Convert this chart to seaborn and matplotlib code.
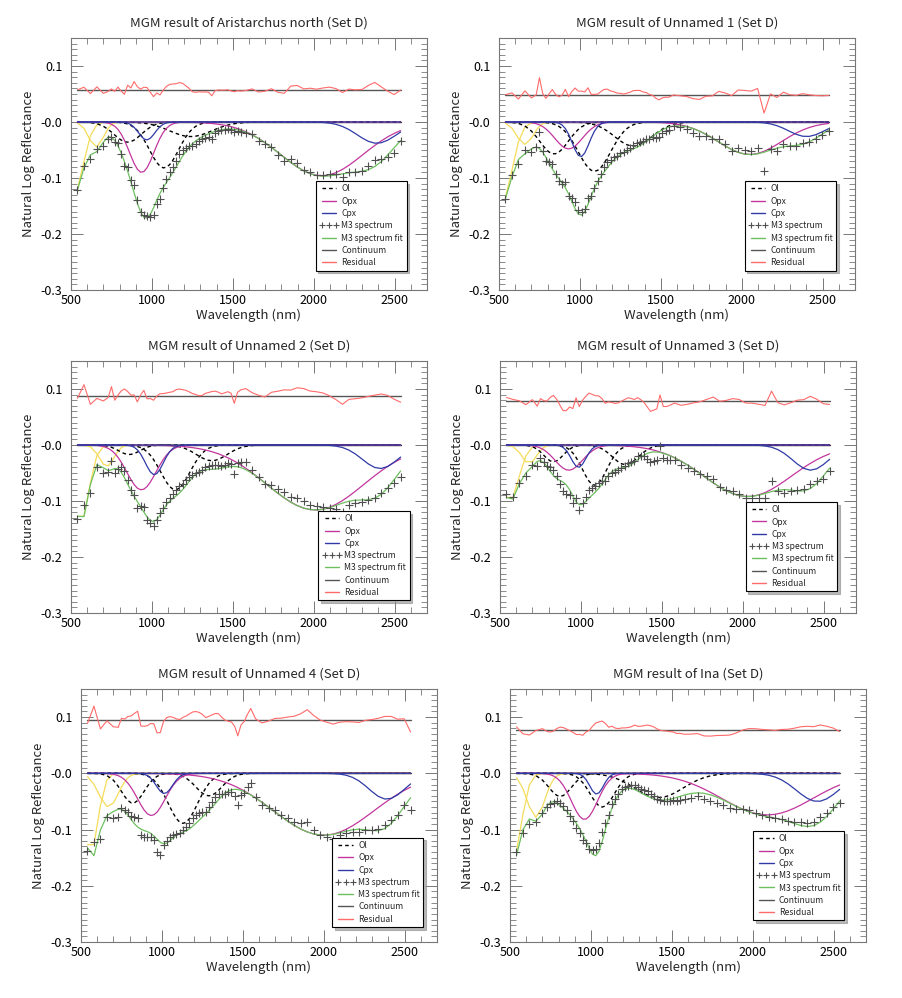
import matplotlib
matplotlib.use("Agg")
import matplotlib.pyplot as plt
from matplotlib.lines import Line2D
from matplotlib.ticker import MultipleLocator, FuncFormatter
import numpy as np
import seaborn as sns

# M3 band centres (nm) used in every panel
WAVELENGTH = [540, 580, 620, 660, 700, 730,
              750, 770, 790, 810, 830, 850, 870, 890, 910, 930,
              950, 970, 990, 1010, 1030, 1050, 1070, 1090, 1110, 1130,
              1150, 1170, 1190, 1210, 1230, 1250, 1270, 1290, 1310, 1330,
              1350, 1370, 1390, 1410, 1430, 1450,
              1469, 1489, 1509, 1529, 1549,
              1579, 1619, 1659, 1699, 1739,
              1778, 1818, 1858, 1898, 1938,
              1978, 2018, 2058, 2098, 2138,
              2178, 2217, 2257, 2297, 2337,
              2377, 2417, 2457, 2497, 2537]

# continuum removed M3 spectra (natural log reflectance)
ARIS_SPEC = [-0.122, -0.078, -0.066, -0.048, -0.043, -0.030,
             -0.026, -0.036, -0.038, -0.058, -0.079, -0.080, -0.104, -0.112, -0.140, -0.160,
             -0.166, -0.168, -0.170, -0.166, -0.146, -0.137, -0.118, -0.102, -0.090, -0.080,
             -0.070, -0.058, -0.050, -0.046, -0.043, -0.043, -0.039, -0.034, -0.031, -0.028,
             -0.026, -0.030, -0.019, -0.016, -0.015, -0.014,
             -0.013, -0.015, -0.017, -0.016, -0.018,
             -0.020, -0.022, -0.034, -0.040, -0.044,
             -0.059, -0.070, -0.066, -0.073, -0.086,
             -0.090, -0.095, -0.094, -0.092, -0.093,
             -0.098, -0.090, -0.090, -0.088, -0.078,
             -0.067, -0.066, -0.062, -0.055, -0.034]
UN1_SPEC = [-0.137, -0.095, -0.075, -0.050, -0.054, -0.045,
            -0.017, -0.052, -0.070, -0.072, -0.075, -0.093, -0.105, -0.110, -0.108, -0.132,
            -0.136, -0.143, -0.158, -0.160, -0.155, -0.135, -0.132, -0.118, -0.106, -0.092,
            -0.080, -0.072, -0.068, -0.063, -0.060, -0.056, -0.054, -0.050, -0.046, -0.041,
            -0.038, -0.035, -0.034, -0.031, -0.030, -0.027,
            -0.028, -0.027, -0.020, -0.016, -0.014,
            -0.008, -0.009, -0.012, -0.019, -0.025,
            -0.025, -0.031, -0.030, -0.040, -0.051,
            -0.046, -0.050, -0.052, -0.046, -0.087,
            -0.049, -0.052, -0.040, -0.043, -0.043,
            -0.038, -0.036, -0.031, -0.024, -0.016]
UN2_SPEC = [-0.132, -0.108, -0.086, -0.040, -0.050, -0.049,
            -0.028, -0.050, -0.042, -0.040, -0.046, -0.062, -0.080, -0.090, -0.112, -0.109,
            -0.110, -0.134, -0.140, -0.145, -0.134, -0.122, -0.112, -0.102, -0.094, -0.088,
            -0.080, -0.074, -0.069, -0.063, -0.058, -0.054, -0.050, -0.048, -0.045, -0.040,
            -0.038, -0.036, -0.035, -0.036, -0.038, -0.035,
            -0.032, -0.034, -0.052, -0.033, -0.030,
            -0.031, -0.045, -0.058, -0.070, -0.071,
            -0.078, -0.084, -0.092, -0.094, -0.100,
            -0.107, -0.109, -0.110, -0.112, -0.115,
            -0.119, -0.107, -0.104, -0.102, -0.099,
            -0.094, -0.085, -0.076, -0.068, -0.058]
UN3_SPEC = [-0.087, -0.093, -0.068, -0.056, -0.035, -0.038,
            -0.023, -0.030, -0.038, -0.040, -0.044, -0.056, -0.070, -0.083, -0.088, -0.090,
            -0.104, -0.095, -0.116, -0.104, -0.092, -0.080, -0.077, -0.074, -0.068, -0.065,
            -0.065, -0.055, -0.050, -0.048, -0.045, -0.041, -0.037, -0.032, -0.030, -0.028,
            -0.020, -0.019, -0.020, -0.025, -0.031, -0.028,
            -0.026, -0.002, -0.024, -0.026, -0.026,
            -0.026, -0.036, -0.041, -0.046, -0.052,
            -0.056, -0.060, -0.075, -0.080, -0.082,
            -0.087, -0.095, -0.095, -0.095, -0.094,
            -0.065, -0.083, -0.086, -0.083, -0.080,
            -0.079, -0.069, -0.065, -0.060, -0.047]
UN4_SPEC = [-0.139, -0.122, -0.117, -0.077, -0.080, -0.077,
            -0.061, -0.066, -0.068, -0.075, -0.078, -0.080, -0.110, -0.113, -0.114, -0.113,
            -0.118, -0.140, -0.145, -0.128, -0.120, -0.114, -0.110, -0.108, -0.106, -0.100,
            -0.095, -0.088, -0.080, -0.074, -0.070, -0.068, -0.068, -0.060, -0.051, -0.042,
            -0.036, -0.036, -0.036, -0.034, -0.033, -0.040,
            -0.057, -0.039, -0.035, -0.025, -0.018,
            -0.042, -0.057, -0.062, -0.066, -0.074,
            -0.080, -0.086, -0.088, -0.086, -0.100,
            -0.110, -0.114, -0.116, -0.110, -0.106,
            -0.104, -0.104, -0.101, -0.101, -0.099,
            -0.092, -0.083, -0.074, -0.057, -0.065]
INA_SPEC = [-0.140, -0.107, -0.090, -0.086, -0.070, -0.060,
            -0.055, -0.052, -0.050, -0.052, -0.058, -0.066, -0.075, -0.085, -0.097, -0.106,
            -0.118, -0.124, -0.134, -0.137, -0.134, -0.124, -0.105, -0.088, -0.074, -0.055,
            -0.045, -0.036, -0.028, -0.024, -0.022, -0.021, -0.020, -0.025, -0.028, -0.030,
            -0.032, -0.036, -0.040, -0.045, -0.048, -0.049,
            -0.049, -0.049, -0.048, -0.049, -0.047,
            -0.046, -0.043, -0.041, -0.046, -0.049,
            -0.052, -0.057, -0.062, -0.064, -0.064,
            -0.066, -0.070, -0.074, -0.077, -0.080,
            -0.081, -0.084, -0.086, -0.087, -0.088,
            -0.087, -0.078, -0.070, -0.060, -0.052]

# MGM bands as (centre nm, strength, width nm)
ARIS_UV = [(520, -0.128, 55), (655, -0.045, 45)]
ARIS_OL = [(850, -0.036, 85), (1075, -0.082, 90), (1240, -0.026, 130)]
ARIS_OPX = [(937, -0.090, 75), (2050, -0.096, 254)]
ARIS_CPX = [(968, -0.032, 50), (2390, -0.038, 120)]

UN1_UV = [(520, -0.142, 60), (660, -0.040, 50)]
UN1_OL = [(840, -0.057, 88), (1090, -0.088, 100), (1330, -0.043, 115)]
UN1_OPX = [(930, -0.048, 85), (2050, -0.058, 195)]
UN1_CPX = [(1005, -0.062, 52), (2400, -0.026, 110)]

UN2_UV = [(560, -0.138, 50), (720, -0.038, 45)]
UN2_OL = [(860, -0.017, 65), (1145, -0.080, 90), (1370, -0.028, 95)]
UN2_OPX = [(935, -0.080, 90), (2010, -0.116, 300)]
UN2_CPX = [(1015, -0.053, 55), (2410, -0.042, 110)]

UN3_UV = [(560, -0.100, 55), (680, -0.033, 45)]
UN3_OL = [(830, -0.030, 60), (1085, -0.072, 75), (1275, -0.035, 80)]
UN3_OPX = [(925, -0.045, 85), (2030, -0.092, 270)]
UN3_CPX = [(985, -0.040, 45), (2420, -0.045, 110)]

UN4_UV = [(560, -0.140, 45), (670, -0.060, 60)]
UN4_OL = [(820, -0.053, 70), (1130, -0.089, 90), (1290, -0.040, 80)]
UN4_OPX = [(935, -0.075, 85), (2000, -0.110, 310)]
UN4_CPX = [(1015, -0.036, 50), (2390, -0.046, 110)]

INA_UV = [(520, -0.150, 50), (660, -0.078, 55)]
INA_OL = [(810, -0.041, 70), (1070, -0.060, 75), (1420, -0.043, 150)]
INA_OPX = [(960, -0.082, 80), (2090, -0.074, 280)]
INA_CPX = [(1035, -0.037, 42), (2400, -0.050, 130)]

# residual is plotted shifted up by this amount
RES_OFFSET = [0.058, 0.049, 0.088, 0.078, 0.095, 0.077]
NAMES = ["Aristarchus north", "Unnamed 1", "Unnamed 2", "Unnamed 3", "Unnamed 4", "Ina"]

PANELS = [
    (ARIS_SPEC, ARIS_UV, ARIS_OL, ARIS_OPX, ARIS_CPX),
    (UN1_SPEC, UN1_UV, UN1_OL, UN1_OPX, UN1_CPX),
    (UN2_SPEC, UN2_UV, UN2_OL, UN2_OPX, UN2_CPX),
    (UN3_SPEC, UN3_UV, UN3_OL, UN3_OPX, UN3_CPX),
    (UN4_SPEC, UN4_UV, UN4_OL, UN4_OPX, UN4_CPX),
    (INA_SPEC, INA_UV, INA_OL, INA_OPX, INA_CPX),
]

# axes boxes in pixels: left, top, right, bottom
BOXES = [(71, 38, 427, 290), (499, 38, 855, 290),
         (71, 361, 427, 613), (500, 361, 856, 613),
         (81, 689, 437, 942), (510, 689, 866, 942)]
LEGEND_ANCHOR = [(0.955, 0.06), (0.958, 0.06), (0.963, 0.033),
                 (0.958, 0.069), (0.974, 0.042), (0.95, 0.068)]

C_OPX = "#c2369e"
C_CPX = "#2f3aa6"
C_FIT = "#6cc05e"
C_UV = "#f5dc5a"
C_RES = "#ff6a6a"
C_SPEC = "#4f4f4f"

sns.set_theme(style="white")
plt.rcParams["font.family"] = ["Noto Sans CJK KR", "DejaVu Sans"]
plt.rcParams["axes.unicode_minus"] = False

W, H = 902, 998
fig = plt.figure(figsize=(W / 100, H / 100), dpi=100)
wl = np.array(WAVELENGTH, dtype=float)


def band(c, s, w):
    return s * np.exp(-(wl - c) ** 2 / (2.0 * w ** 2))


def line(ax, y, color, lw=0.9, z=2, dashed=False):
    sns.lineplot(x=wl, y=y, ax=ax, color=color, linewidth=lw, estimator=None,
                 sort=False, legend=False, zorder=z)
    if dashed:
        ax.lines[-1].set_dashes((2.6, 2.2))


for i, (spec, uv, ol, opx, cpx) in enumerate(PANELS):
    l, t, r, b = BOXES[i]
    ax = fig.add_axes([l / W, 1 - b / H, (r - l) / W, (b - t) / H])
    spec = np.array(spec)

    bands = [band(*p) for p in uv + ol + opx + cpx]
    fit = np.sum(bands, axis=0)
    resid = RES_OFFSET[i] + (spec - fit)

    # continuum lines
    line(ax, np.zeros_like(wl), "#222222", lw=1.0, z=1)
    line(ax, np.full_like(wl, RES_OFFSET[i]), "#555555", lw=1.0, z=1)

    for p in uv:
        line(ax, band(*p), C_UV, z=2)
    for p in ol:
        line(ax, band(*p), "black", lw=1.0, z=3, dashed=True)
    for p in opx:
        line(ax, band(*p), C_OPX, z=3)
    for p in cpx:
        line(ax, band(*p), C_CPX, z=4)

    line(ax, fit, C_FIT, z=5)
    sns.scatterplot(x=wl, y=spec, ax=ax, marker="+", s=30, color=C_SPEC,
                    linewidth=0.8, legend=False, zorder=6)
    line(ax, resid, C_RES, lw=0.8, z=3)

    ax.set_xlim(500, 2700)
    ax.set_ylim(-0.3, 0.15)
    ax.xaxis.set_major_locator(MultipleLocator(500))
    ax.xaxis.set_minor_locator(MultipleLocator(100))
    ax.yaxis.set_major_locator(MultipleLocator(0.1))
    ax.yaxis.set_minor_locator(MultipleLocator(0.01))
    ax.yaxis.set_major_formatter(FuncFormatter(
        lambda v, p: "-0.0" if abs(v) < 1e-9 else f"{v:.1f}"))
    ax.tick_params(which="both", direction="in", bottom=True, left=True,
                   top=True, right=True, color="#777777",
                   labelsize=9, labelcolor="black")
    ax.tick_params(which="major", length=8.5, width=0.7, pad=3)
    ax.tick_params(axis="y", which="major", pad=6)
    ax.tick_params(which="minor", length=4.3, width=0.6)
    for sp in ax.spines.values():
        sp.set_color("#777777")
        sp.set_linewidth(0.8)

    ax.set_title(f"MGM result of {NAMES[i]} (Set D)", fontsize=9.5, pad=8)
    ax.set_xlabel("Wavelength (nm)", fontsize=9.5, labelpad=1)
    ax.set_ylabel("Natural Log Reflectance", fontsize=9.5, labelpad=4)

    handles = [
        Line2D([], [], color="black", lw=1.0, dashes=(2.6, 2.2), label="Ol"),
        Line2D([], [], color=C_OPX, lw=1.0, label="Opx"),
        Line2D([], [], color=C_CPX, lw=1.0, label="Cpx"),
        Line2D([], [], ls="none", marker="+", ms=5, mew=0.8, color=C_SPEC, label="M3 spectrum"),
        Line2D([], [], color=C_FIT, lw=1.0, label="M3 spectrum fit"),
        Line2D([], [], color="#555555", lw=1.0, label="Continuum"),
        Line2D([], [], color=C_RES, lw=1.0, label="Residual"),
    ]
    leg = ax.legend(handles=handles, loc="lower right", bbox_to_anchor=LEGEND_ANCHOR[i],
                    fontsize=6.2, numpoints=3, handlelength=2.3, handletextpad=0.3,
                    labelspacing=0.38, borderpad=0.4, fancybox=False, framealpha=1,
                    edgecolor="black", shadow={"color": "0.55", "alpha": 0.6})
    leg.get_frame().set_linewidth(0.8)
    leg.set_zorder(10)

fig.savefig("out.png", dpi=100)
